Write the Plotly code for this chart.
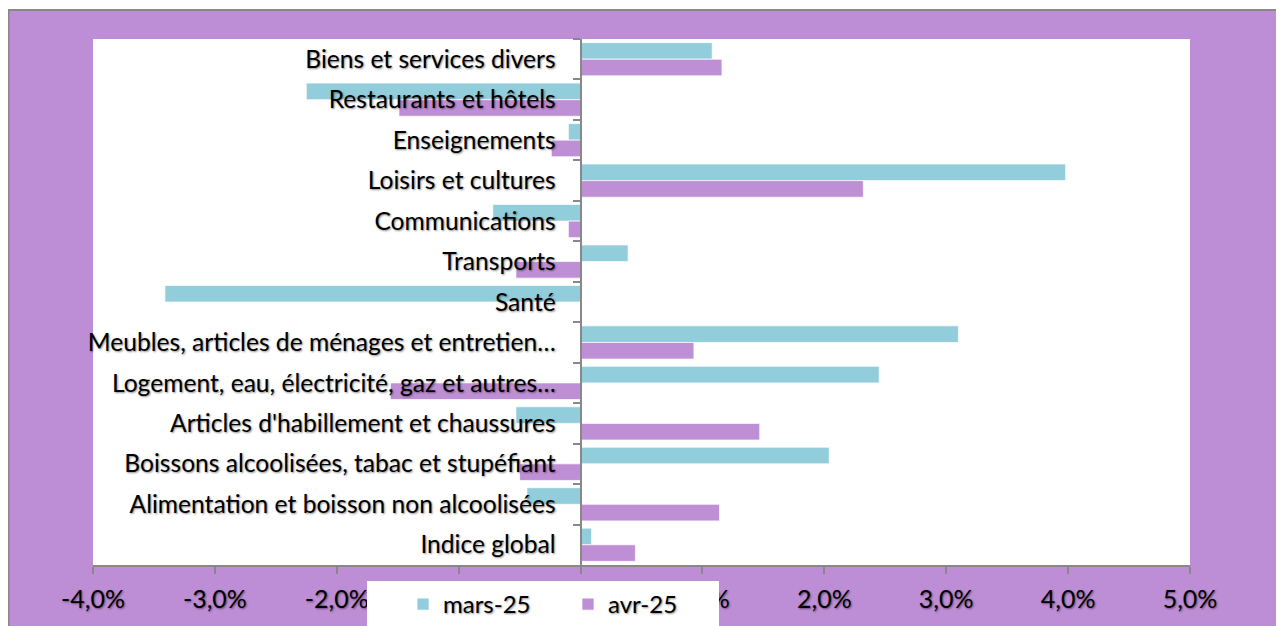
import plotly.graph_objects as go

categories = [
    "Biens et services divers",
    "Restaurants et hôtels",
    "Enseignements",
    "Loisirs et cultures",
    "Communications",
    "Transports",
    "Santé",
    "Meubles, articles de ménages et entretien…",
    "Logement, eau, électricité, gaz et autres…",
    "Articles d'habillement et chaussures",
    "Boissons alcoolisées, tabac et stupéfiant",
    "Alimentation et boisson non alcoolisées",
    "Indice global",
]
mars_25 = [1.08, -2.25, -0.10, 3.98, -0.72, 0.39, -3.41, 3.10, 2.45, -0.53, 2.04, -0.44, 0.09]
avr_25 = [1.16, -1.49, -0.24, 2.32, -0.10, -0.53, 0.0, 0.93, -1.56, 1.47, -0.50, 1.14, 0.45]
x_tickvals = [-4, -3, -2, -1, 0, 1, 2, 3, 4, 5]
x_ticktext = ["-4,0%", "-3,0%", "-2,0%", "-1,0%", "0,0%", "1,0%", "2,0%", "3,0%", "4,0%", "5,0%"]

BLUE = "#92CDDC"
PURPLE = "#BF8FD6"
BG = "#BD8DD6"
GRAY = "#888888"
FONT = "Lato"
SHADOW = "1px 1px 2px rgba(0,0,0,0.45)"

OFF = 8  # page body margin
W, H = 1284 - OFF, 626 - OFF
# plot area in page pixels
PL, PR, PT, PB = 93, 1190, 39, 565
L, R, T, B = PL - OFF, PR - OFF, PT - OFF, PB - OFF


def px_x(p):
    return (p - OFF - L) / (R - L)


def px_y(p):
    return (B - (p - OFF)) / (B - T)


fig = go.Figure()
fig.add_trace(go.Bar(y=categories, x=mars_25, name="mars-25", orientation="h",
                     marker=dict(color=BLUE, line=dict(color="rgba(255,255,255,0.7)", width=1))))
fig.add_trace(go.Bar(y=categories, x=avr_25, name="avr-25", orientation="h",
                     marker=dict(color=PURPLE, line=dict(color="rgba(255,255,255,0.7)", width=1))))

fig.update_layout(
    width=W, height=H,
    margin=dict(l=L, r=W - R, t=T, b=H - B, autoexpand=False),
    paper_bgcolor="white",
    plot_bgcolor="rgba(0,0,0,0)",
    barmode="group", bargap=0.18, bargroupgap=0,
    font=dict(family=FONT, size=24.6, color="black", shadow=SHADOW),
    showlegend=True,
    legend=dict(orientation="h", x=px_x(403), y=px_y(582), xanchor="left", yanchor="top",
                bgcolor="rgba(0,0,0,0)", font=dict(family=FONT, size=24, shadow=SHADOW),
                entrywidth=120, traceorder="normal"),
    shapes=[
        dict(type="rect", xref="paper", yref="paper", layer="below",
             x0=px_x(8.5), x1=px_x(1320), y0=px_y(660), y1=px_y(10),
             fillcolor=BG, line=dict(color=GRAY, width=2)),
        dict(type="rect", xref="paper", yref="paper", layer="below",
             x0=0, x1=1, y0=0, y1=1, fillcolor="white", line=dict(width=0)),
        dict(type="rect", xref="paper", yref="paper", layer="above",
             x0=px_x(367), x1=px_x(719), y0=px_y(660), y1=px_y(581),
             fillcolor="white", line=dict(width=0)),
    ],
)

fig.update_xaxes(range=[-4, 5], tickvals=x_tickvals, ticktext=x_ticktext,
                 showgrid=False, zeroline=False, showline=True, linecolor=GRAY, linewidth=2,
                 ticks="outside", ticklen=7, tickwidth=2, tickcolor=GRAY,
                 ticklabelstandoff=4, tickfont=dict(size=25))
fig.update_yaxes(type="category", autorange="reversed", anchor="free", position=4 / 9,
                 showgrid=False, zeroline=False, showline=True, linecolor=GRAY, linewidth=2,
                 ticks="outside", ticklen=7, tickwidth=2, tickcolor=GRAY, tickson="boundaries",
                 ticklabelstandoff=19, tickfont=dict(size=24.6))

fig.write_html("out.html")
